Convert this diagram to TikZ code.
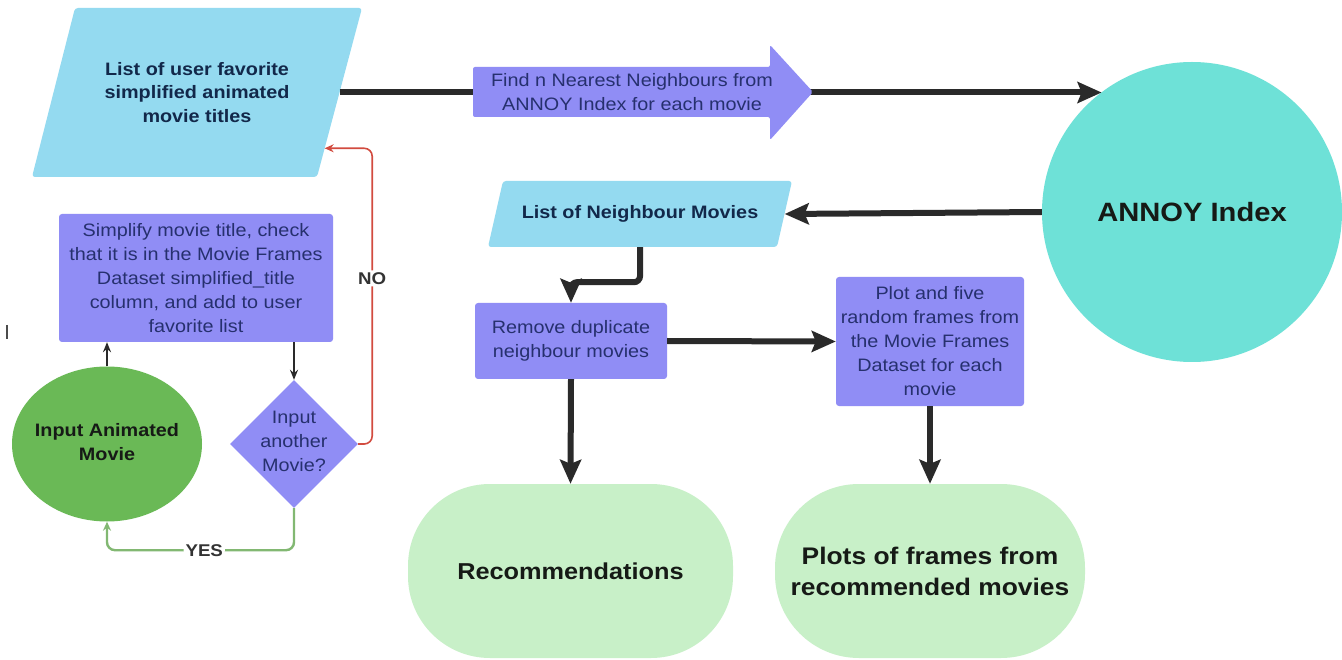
\documentclass[tikz,border=0pt]{standalone}
\usepackage{fontspec}
\setmainfont{Liberation Sans}[FakeStretch=1.1]
\usetikzlibrary{shapes.geometric,arrows.meta,calc}

\definecolor{skyfill}{HTML}{94DAF0}
\definecolor{violetfill}{HTML}{908DF5}
\definecolor{tealfill}{HTML}{6EE1D7}
\definecolor{mintfill}{HTML}{C8F0C8}
\definecolor{leaffill}{HTML}{6AB956}
\definecolor{navytext}{HTML}{12284A}
\definecolor{inktext}{HTML}{26306E}
\definecolor{darktext}{HTML}{161A16}
\definecolor{flowink}{HTML}{2A2A2A}
\definecolor{nored}{HTML}{D24B3F}
\definecolor{yesgreen}{HTML}{82B872}

\newcommand\fcRegular{\fontsize{18}{24}\selectfont}
\newcommand\fcBold{\fontsize{18}{23.5}\selectfont\bfseries}

\begin{document}
\begin{tikzpicture}[x=1pt,y=-1pt,
  slantfill/.style={fill=skyfill, rounded corners=3pt},
  slanttext/.style={rectangle, inner sep=0pt, align=center, text=navytext, font=\fcBold},
  procbox/.style={rectangle, rounded corners=3pt, fill=violetfill, inner sep=2pt,
    align=center, text=inktext, font=\fcRegular},
  endbox/.style={rectangle, fill=mintfill, inner sep=0pt, align=center,
    text=darktext, font=\fontsize{24}{31}\selectfont\bfseries},
  bigflow/.style={line width=6pt, draw=flowink, -{Stealth[length=24pt,width=21pt,inset=4pt]}},
  thinflow/.style={line width=2pt, draw=flowink, -{Stealth[length=10pt,width=8pt]}},
  noflow/.style={line width=1.6pt, draw=nored, rounded corners=8pt, -{Stealth[length=9pt,width=8pt]}},
  yesflow/.style={line width=2.4pt, draw=yesgreen, rounded corners=8pt, -{Stealth[length=9pt,width=8pt]}},
  flowlabel/.style={fill=white, inner sep=2pt, text=black!80,
    font=\fontsize{17}{20}\selectfont\bfseries}
]
\fill[white] (0,0) rectangle (1342,660);
\useasboundingbox (0,0) rectangle (1342,660);

% stray tick at the left margin
\draw[line width=1.5pt, gray!60!black] (7,325) -- (7,339);

% ---------- slanted data shapes (corners, fill, text node) ----------
\coordinate (favsTL) at (75,8);   \coordinate (favsTR) at (362,8);
\coordinate (favsBR) at (317,177); \coordinate (favsBL) at (32,177);
\fill[slantfill] (favsTL) -- (favsTR) -- (favsBR) -- (favsBL) -- cycle;
\node[slanttext, minimum width=285pt, minimum height=169pt] (favs) at (197,92.5)
  {List of user favorite\\simplified animated\\movie titles};

\coordinate (nbrsTL) at (503,181); \coordinate (nbrsTR) at (792,181);
\coordinate (nbrsBR) at (777,247); \coordinate (nbrsBL) at (488,247);
\fill[slantfill] (nbrsTL) -- (nbrsTR) -- (nbrsBR) -- (nbrsBL) -- cycle;
\node[slanttext, minimum width=289pt, minimum height=66pt] (nbrs) at (640,214)
  {List of Neighbour Movies};

% entry point on the slanted right edge of the favourites list
\coordinate (favsin) at ($(favsTR)!0.83!(favsBR)$);

% ---------- other nodes ----------
\node[circle, fill=tealfill, minimum size=300pt, inner sep=0pt,
      text=darktext, font=\fontsize{26.5}{30}\selectfont\bfseries] (annoy) at (1192,212) {ANNOY Index};

\node[procbox, minimum width=274pt, minimum height=128pt] (simp) at (196,278)
  {Simplify movie title, check\\that it is in the Movie Frames\\Dataset simplified\_title\\column, and add to user\\favorite list};

\node[ellipse, fill=leaffill, minimum width=190pt, minimum height=155pt, inner sep=0pt,
      label={[align=center, text=darktext, font=\fcBold, yshift=2pt]center:Input Animated\\Movie}] (inmovie) at (107,444) {};

\node[diamond, fill=violetfill, minimum width=128pt, minimum height=128pt, inner sep=0pt,
      label={[align=center, text=inktext, font=\fcRegular, yshift=3pt]center:Input\\another\\Movie?}] (again) at (294,444) {};

\node[procbox, minimum width=192pt, minimum height=76pt] (dedup) at (571,341)
  {Remove duplicate\\neighbour movies};

\node[procbox, minimum width=188pt, minimum height=129pt] (plot) at (930,341.5)
  {Plot and five\\random frames from\\the Movie Frames\\Dataset for each\\movie};

\node[endbox, rounded corners=82pt, minimum width=325pt, minimum height=174pt,
      font=\fontsize{23}{30}\selectfont\bfseries] (recs) at (570.5,571)
  {Recommendations};

\node[endbox, rounded corners=84pt, minimum width=310pt, minimum height=174pt] (plots) at (930,571)
  {Plots of frames from\\recommended movies};

% ---------- main flow ----------
\draw[bigflow] (favs.east) -- (favs.east -| annoy.127);

% block arrow laid over the main flow line
\fill[violetfill, rounded corners=2pt]
  (473,67) -- (770,67) -- (770,45) -- (813,92) -- (770,140) -- (770,117) -- (473,117) -- cycle;
\node[align=center, text=inktext, font=\fcRegular] (findnn) at (632,92)
  {Find n Nearest Neighbours from\\ANNOY Index for each movie};

\draw[bigflow] (annoy.west) -- (nbrs.east);
\draw[bigflow, rounded corners=6pt] (nbrs.south) -- ++(0,35) -| (dedup.north);
\draw[bigflow] (dedup.east) -- (plot.west);
\draw[bigflow] (dedup.south) -- (recs.north);
\draw[bigflow] (plot.south) -- (plots.north);

% ---------- input loop ----------
\draw[thinflow] (inmovie.north) -- (inmovie.north |- simp.south);
\draw[thinflow] (simp.south -| again.north) -- (again.north);
\draw[noflow] (again.east) -- ++(14,0) |- node[flowlabel, pos=0.28] {NO} (favsin);
\draw[yesflow] (again.south) -- ++(0,42) -| node[flowlabel, pos=0.24] {YES} (inmovie.south);

\end{tikzpicture}
\end{document}
